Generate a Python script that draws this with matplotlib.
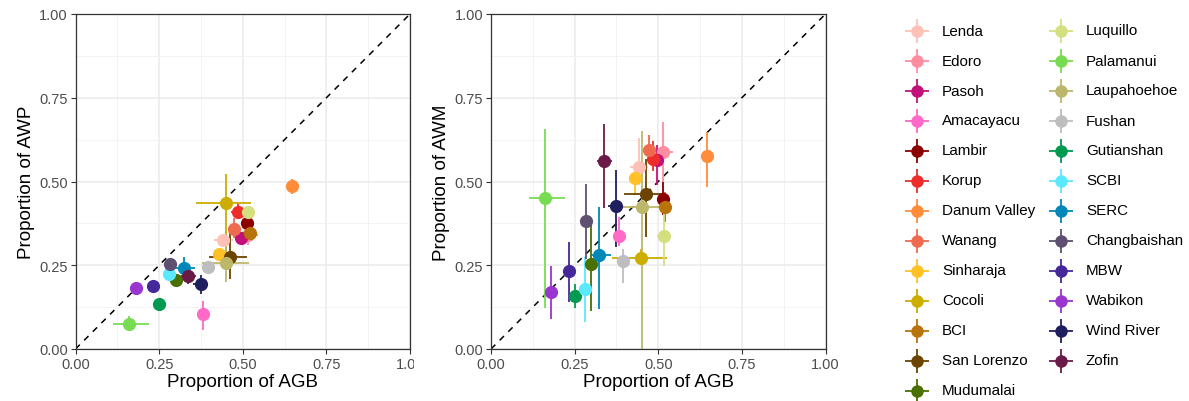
import numpy as np
import matplotlib
matplotlib.use('Agg')
import matplotlib.pyplot as plt
from matplotlib.transforms import Bbox, TransformedBbox

plt.rcParams['font.family'] = ['Liberation Sans', 'DejaVu Sans']

# data
sites = ['Lenda', 'Edoro', 'Pasoh', 'Amacayacu', 'Lambir', 'Korup', 'Danum Valley',
         'Wanang', 'Sinharaja', 'Cocoli', 'BCI', 'San Lorenzo', 'Mudumalai',
         'Luquillo', 'Palamanui', 'Laupahoehoe', 'Fushan', 'Gutianshan', 'SCBI',
         'SERC', 'Changbaishan', 'MBW', 'Wabikon', 'Wind River', 'Zofin']

site_colors = ['#FFC1B5', '#FF8CA0', '#C2127A', '#FF69C8', '#8B0000', '#EE2C2C', '#FF8C3A',
               '#EE6A50', '#FFC125', '#CDAD00', '#B8740A', '#6B4400', '#4A7000',
               '#D4E080', '#78DC52', '#BDB76B', '#BEBEBE', '#009A50', '#5CE8FF',
               '#0088B8', '#5E5070', '#45289A', '#9A35D0', '#1F1F60', '#6B1A48']

agb    = [0.442, 0.515, 0.495, 0.382, 0.514, 0.485, 0.646, 0.473, 0.430, 0.449, 0.521, 0.462, 0.300,
          0.517, 0.160, 0.450, 0.395, 0.251, 0.280, 0.323, 0.283, 0.233, 0.180, 0.374, 0.337]
agb_lo = [0.415, 0.495, 0.485, 0.370, 0.500, 0.466, 0.640, 0.455, 0.420, 0.361, 0.500, 0.398, 0.290,
          0.495, 0.113, 0.378, 0.380, 0.245, 0.265, 0.298, 0.275, 0.225, 0.172, 0.350, 0.316]
agb_hi = [0.470, 0.545, 0.505, 0.390, 0.525, 0.510, 0.652, 0.490, 0.440, 0.526, 0.540, 0.514, 0.310,
          0.535, 0.220, 0.520, 0.410, 0.257, 0.300, 0.358, 0.290, 0.240, 0.188, 0.390, 0.361]

awp    = [0.325, 0.340, 0.331, 0.103, 0.377, 0.410, 0.487, 0.359, 0.285, 0.435, 0.346, 0.275, 0.206,
          0.408, 0.076, 0.258, 0.246, 0.135, 0.223, 0.241, 0.253, 0.187, 0.183, 0.193, 0.217]
awp_lo = [0.310, 0.310, 0.315, 0.058, 0.360, 0.390, 0.464, 0.330, 0.270, 0.270, 0.330, 0.210, 0.195,
          0.395, 0.055, 0.200, 0.235, 0.125, 0.210, 0.205, 0.235, 0.175, 0.175, 0.163, 0.195]
awp_hi = [0.340, 0.370, 0.350, 0.143, 0.395, 0.435, 0.506, 0.390, 0.300, 0.522, 0.360, 0.345, 0.215,
          0.420, 0.100, 0.315, 0.260, 0.145, 0.235, 0.275, 0.270, 0.200, 0.192, 0.222, 0.235]

awm    = [0.542, 0.589, 0.563, 0.338, 0.449, 0.567, 0.575, 0.595, 0.509, 0.271, 0.425, 0.463, 0.253,
          0.336, 0.450, 0.425, 0.264, 0.157, 0.179, 0.281, 0.382, 0.233, 0.169, 0.426, 0.560]
awm_lo = [0.490, 0.408, 0.490, 0.308, 0.400, 0.530, 0.483, 0.556, 0.460, 0.250, 0.380, 0.333, 0.114,
          0.249, 0.121, 0.000, 0.198, 0.121, 0.082, 0.119, 0.269, 0.141, 0.090, 0.303, 0.420]
awm_hi = [0.630, 0.677, 0.610, 0.393, 0.500, 0.620, 0.647, 0.640, 0.530, 0.300, 0.470, 0.567, 0.370,
          0.420, 0.657, 0.652, 0.298, 0.194, 0.274, 0.423, 0.493, 0.318, 0.249, 0.535, 0.672]

W, H = 1189, 402
fig = plt.figure(figsize=(W / 100, H / 100), dpi=100)
ax1 = fig.add_axes([75.5 / W, 52 / H, 334.5 / W, 335 / H])
ax2 = fig.add_axes([491 / W, 52 / H, 334.5 / W, 335 / H])

ticks = [0, 0.25, 0.5, 0.75, 1.0]
ticklabs = ['0.00', '0.25', '0.50', '0.75', '1.00']


def panel(ax, yv, ylo, yhi, ylabel):
    ax.set_xlim(0, 1)
    ax.set_ylim(0, 1)
    ax.set_xticks(ticks)
    ax.set_xticklabels(ticklabs)
    ax.set_yticks(ticks)
    ax.set_yticklabels(ticklabs)
    ax.set_xticks([0.125, 0.375, 0.625, 0.875], minor=True)
    ax.set_yticks([0.125, 0.375, 0.625, 0.875], minor=True)
    ax.grid(True, which='major', color='#EBEBEB', lw=1.1, zorder=0)
    ax.grid(True, which='minor', color='#F3F3F3', lw=0.7, zorder=0)
    ax.tick_params(which='minor', length=0)
    ax.tick_params(which='major', length=3.5, width=0.8, color='#333333',
                   labelsize=10.5, labelcolor='#4D4D4D', pad=2)
    for s in ax.spines.values():
        s.set_color('#333333')
        s.set_linewidth(0.9)
    ax.set_axisbelow(True)
    ax.plot([0, 1], [0, 1], ls=(0, (4, 4)), color='black', lw=1.1, zorder=1)
    for i in range(len(sites)):
        c = site_colors[i]
        ax.plot([agb_lo[i], agb_hi[i]], [yv[i], yv[i]], color=c, lw=1.3, zorder=2,
                solid_capstyle='butt')
        ax.plot([agb[i], agb[i]], [ylo[i], yhi[i]], color=c, lw=1.3, zorder=2,
                solid_capstyle='butt')
    for i in range(len(sites)):
        ax.plot(agb[i], yv[i], 'o', color=site_colors[i], ms=9.5, mew=0, zorder=3)
    ax.set_xlabel('Proportion of AGB', fontsize=13.5, labelpad=2)
    ax.set_ylabel(ylabel, fontsize=13.5, labelpad=3)


panel(ax1, awp, awp_lo, awp_hi, 'Proportion of AWP')
panel(ax2, awm, awm_lo, awm_hi, 'Proportion of AWM')

# left panel's last x label is clipped by the neighbouring plot
clipbox = TransformedBbox(Bbox([[0, 0], [414 / W, 1]]), fig.transFigure)
lab = ax1.get_xticklabels()[-1]
lab.set_clip_box(clipbox)
lab.set_clip_on(True)

# manual legend keys drawn in figure coordinates
lax = fig.add_axes([0, 0, 1, 1])
lax.set_xlim(0, W)
lax.set_ylim(H, 0)
lax.axis('off')
col_x = [917, 1061]
for i, name in enumerate(sites):
    col = 0 if i < 13 else 1
    row = i if i < 13 else i - 13
    x0 = col_x[col]
    y0 = 31.5 + row * 30
    c = site_colors[i]
    lax.plot([x0 - 12, x0 + 12], [y0, y0], color=c, lw=1.3, solid_capstyle='butt')
    lax.plot([x0, x0], [y0 - 12, y0 + 12], color=c, lw=1.3, solid_capstyle='butt')
    lax.plot(x0, y0, 'o', color=c, ms=9, mew=0)
    lax.text(x0 + 25, y0, name, fontsize=10.9, va='center', ha='left', color='black')

fig.savefig('out.png', dpi=100)
